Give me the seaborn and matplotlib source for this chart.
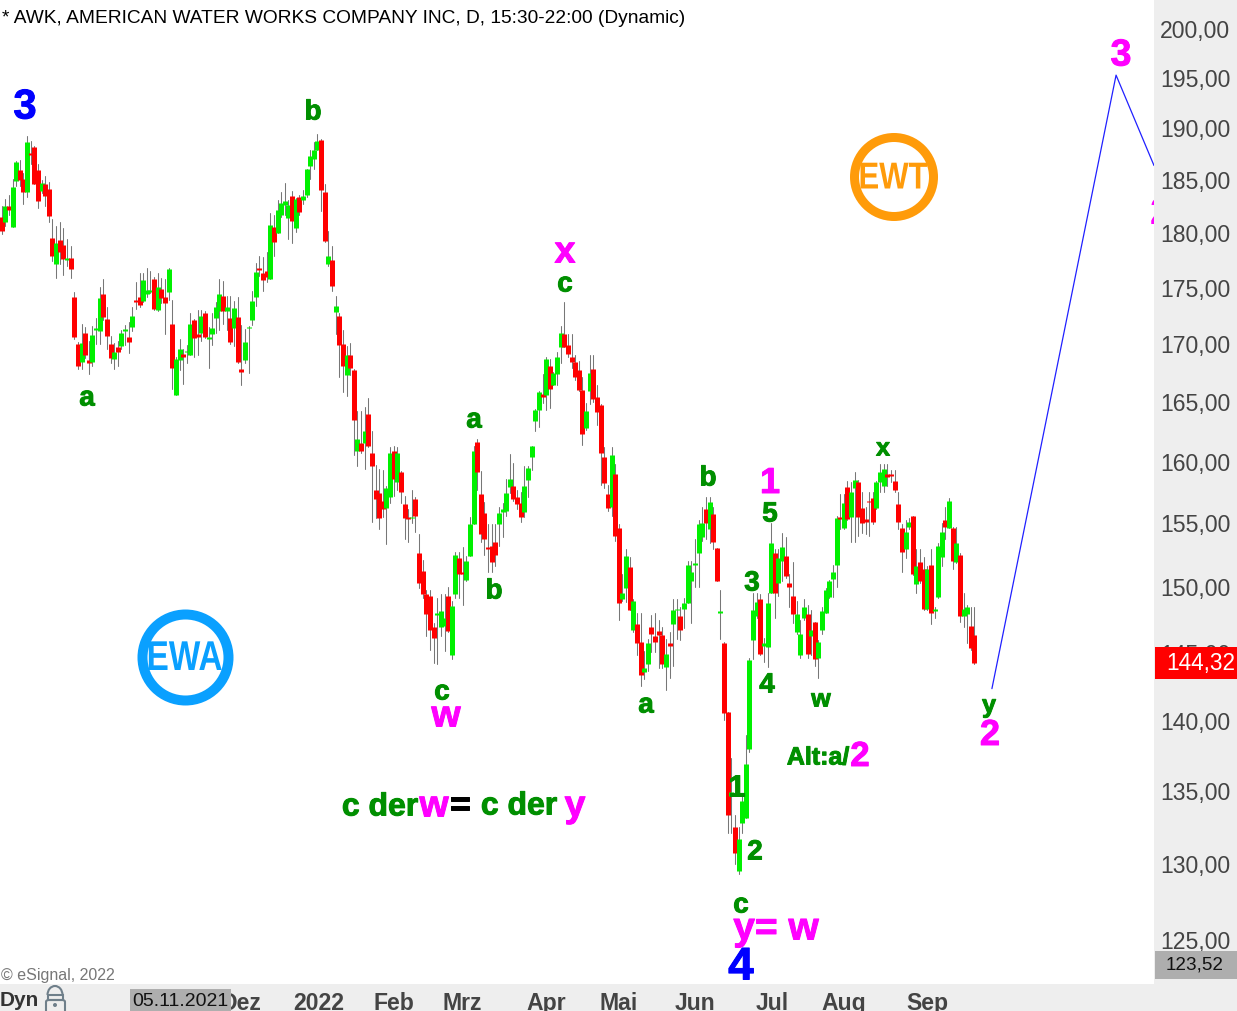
import numpy as np
import pandas as pd
import seaborn as sns
import matplotlib
matplotlib.use("Agg")
import matplotlib.pyplot as plt
import matplotlib.patheffects as pe
from matplotlib.patches import Ellipse, Rectangle, FancyBboxPatch, Arc
from matplotlib.transforms import Affine2D, ScaledTranslation

W, H = 1237, 1011

# daily candles
opens = [
    181.6,181.1,182.6,180.7,185.0,186.1,185.2,184.0,187.7,188.3,
    186.1,184.1,184.7,184.3,179.7,177.3,179.5,179.0,177.6,177.8,
    174.3,170.1,168.5,171.1,168.7,168.5,171.3,171.2,174.5,172.3,
    170.1,168.8,169.8,169.9,171.2,170.7,171.6,174.0,174.3,173.9,
    174.5,174.7,175.9,173.1,175.0,174.3,174.7,171.9,165.7,168.7,
    169.2,169.4,169.1,172.2,171.0,171.1,172.8,170.5,171.0,172.4,
    173.0,174.4,173.0,172.4,171.5,172.5,167.9,168.7,171.5,172.2,
    174.3,176.9,176.4,176.6,175.9,180.7,180.1,181.8,182.7,181.5,
    183.6,180.6,183.5,183.2,183.7,186.5,187.1,188.0,189.0,184.0,
    177.3,177.6,172.9,172.6,170.1,167.4,169.1,167.8,161.0,161.6,
    161.6,164.1,160.8,157.8,157.5,156.9,156.3,157.2,161.0,158.4,
    159.2,156.6,155.6,155.5,157.0,152.7,151.3,149.5,149.4,147.0,
    147.9,147.0,147.1,149.4,144.9,149.5,152.3,151.2,150.6,152.5,
    155.0,161.7,157.4,155.9,153.2,153.3,153.6,155.0,156.0,156.1,
    158.0,158.1,157.2,156.7,156.0,158.6,160.5,163.5,164.4,165.8,
    165.7,168.2,166.5,167.5,169.8,171.0,170.0,169.0,168.5,167.8,
    166.1,162.9,166.0,167.9,165.5,164.8,160.5,157.4,156.4,159.1,
    154.7,149.1,150.0,151.6,146.8,147.2,145.9,143.6,144.2,147.0,
    146.3,146.7,146.4,144.0,145.8,147.2,148.3,147.8,148.4,148.8,
    150.5,151.8,152.7,154.0,156.2,154.6,155.8,153.1,148.1,145.8,
    140.7,134.7,132.6,129.6,132.9,133.2,138.0,146.0,147.8,149.1,
    145.6,145.5,149.6,152.7,150.4,152.1,152.5,150.4,149.4,146.6,
    144.9,147.7,148.0,146.3,147.4,144.7,146.8,148.1,149.3,150.7,
    151.8,155.6,154.7,158.0,155.6,157.9,158.4,156.3,155.4,156.9,
    157.1,156.3,158.4,158.1,159.1,159.1,158.5,156.6,154.7,153.0,
    154.8,155.7,150.3,152.0,151.5,148.4,151.8,148.2,149.3,152.4,
    155.3,154.7,154.7,152.0,152.6,147.8,148.0,147.1,146.4,
]
highs = [
    182.6,183.3,183.7,185.2,186.9,187.0,185.8,189.4,188.9,188.4,
    186.6,185.1,185.5,184.9,181.4,180.8,181.1,180.6,179.6,178.9,
    174.7,170.3,171.9,171.6,170.4,171.7,172.4,175.2,175.9,173.4,
    170.8,170.2,170.4,171.3,171.8,172.0,173.4,175.6,176.4,176.4,
    176.9,176.6,176.1,176.4,176.0,175.9,176.9,174.0,169.0,170.5,
    169.7,170.0,172.8,172.3,173.1,173.1,173.0,171.6,172.8,173.8,
    175.9,175.7,174.4,174.4,173.9,174.3,171.8,171.4,171.7,174.8,
    177.4,178.0,177.9,178.4,182.0,181.8,183.2,184.0,184.8,183.2,
    184.1,183.4,183.7,184.2,186.2,188.0,188.8,189.6,189.1,184.7,
    180.3,178.9,174.4,172.8,171.3,169.9,170.2,167.9,164.3,164.3,
    164.7,165.4,162.6,159.8,159.5,159.4,158.1,161.3,161.4,161.3,
    159.3,157.3,156.2,157.8,157.2,154.2,152.2,149.8,149.8,147.3,
    149.2,149.5,149.5,150.1,149.0,152.8,152.8,153.2,152.5,155.6,
    161.4,162.0,159.3,156.8,155.0,155.0,155.0,156.4,156.7,158.7,
    160.7,160.0,157.8,157.6,159.7,159.7,161.4,164.5,166.0,167.5,
    169.0,168.8,167.7,169.4,171.7,173.8,171.0,171.0,169.1,168.6,
    167.2,165.0,169.1,169.1,166.5,164.9,161.3,158.2,161.3,159.9,
    155.0,151.1,153.0,152.4,149.1,148.1,148.1,145.2,146.1,147.9,
    148.1,147.5,147.0,146.1,146.6,149.1,149.1,148.5,149.2,152.1,
    152.1,153.8,155.3,156.4,157.2,157.2,156.4,153.1,149.8,145.9,
    140.7,137.4,133.4,132.6,134.7,139.0,144.7,149.6,149.6,149.5,
    146.2,149.6,155.1,153.0,153.0,154.3,154.0,151.1,152.0,149.0,
    147.5,149.1,148.7,148.3,147.4,146.0,148.5,150.0,150.6,151.8,
    155.7,157.4,157.4,158.5,158.4,159.2,158.6,157.6,156.4,157.6,
    157.6,158.5,159.9,159.9,159.9,159.4,159.4,157.6,155.0,155.3,
    155.5,155.7,153.0,153.0,152.4,151.7,153.0,148.5,153.5,155.1,
    156.4,157.1,154.8,154.8,152.7,149.6,148.7,148.5,148.5,
]
lows = [
    180.0,180.8,181.8,180.7,184.5,184.5,182.8,183.5,186.6,184.7,
    182.5,183.9,182.6,181.1,177.5,176.0,177.3,176.3,177.1,176.0,
    170.5,167.9,167.9,168.9,167.5,168.2,170.1,170.1,172.2,169.7,
    168.4,167.9,168.2,169.7,170.0,169.3,171.2,173.2,173.4,173.8,
    174.3,174.6,173.1,173.0,173.7,171.0,174.0,166.2,165.7,167.8,
    166.6,168.4,169.1,169.0,169.1,170.4,170.6,168.0,170.0,171.1,
    171.3,171.9,171.3,170.1,169.9,168.4,166.5,168.4,167.6,171.8,
    173.5,176.2,174.8,175.6,175.9,178.0,180.1,181.6,181.8,179.6,
    179.2,180.2,181.8,182.8,183.5,185.2,186.2,188.0,182.2,179.3,
    177.1,174.8,171.0,167.2,165.9,165.6,167.4,160.6,159.7,160.8,
    159.5,161.3,155.2,155.5,154.6,155.6,153.4,156.7,157.3,157.8,
    156.7,153.8,153.6,155.1,154.4,150.0,149.2,146.3,145.3,144.3,
    144.2,146.3,145.2,146.6,144.6,149.2,149.2,148.7,150.5,152.5,
    155.0,157.8,153.6,152.6,151.2,151.2,151.7,153.3,154.0,155.7,
    157.5,156.9,156.2,155.2,155.6,157.2,159.4,162.6,163.0,165.0,
    164.4,164.6,166.5,166.5,168.4,169.8,169.0,168.0,167.0,166.0,
    161.5,162.7,164.9,165.1,163.1,158.2,157.9,156.1,155.7,153.7,
    147.5,149.0,148.9,148.3,146.6,144.9,142.6,143.1,143.7,145.1,
    145.1,143.9,143.9,142.3,143.2,144.1,146.1,146.0,146.9,148.8,
    147.3,150.1,150.1,153.7,153.8,153.5,153.0,150.5,146.1,140.1,
    132.2,132.2,130.1,129.4,132.2,133.2,137.8,144.6,147.7,144.9,
    144.4,144.0,149.6,147.7,149.4,150.5,150.8,148.5,147.3,146.5,
    144.7,147.5,144.7,144.9,144.1,143.2,146.5,148.1,149.2,149.3,
    150.1,154.6,154.6,155.3,153.6,153.6,154.1,154.3,154.2,154.1,
    155.0,156.2,157.6,157.6,158.1,158.4,157.6,154.6,151.2,152.3,
    154.6,151.0,149.6,150.4,148.3,148.3,147.2,147.7,149.2,151.7,
    153.8,154.7,151.5,151.9,147.4,147.0,145.8,145.3,144.2,
]
closes = [
    180.3,182.6,182.3,184.4,186.8,185.1,184.0,188.8,187.5,184.7,
    183.1,184.8,183.6,181.7,178.0,179.2,178.4,177.7,177.8,176.8,
    170.7,168.2,170.2,169.1,168.4,170.9,171.5,174.2,172.5,170.8,
    168.9,169.4,169.4,171.1,171.4,170.3,172.6,173.8,173.6,175.8,
    174.9,174.9,173.2,175.2,174.2,173.7,176.8,168.0,168.8,169.7,
    169.0,169.5,171.9,170.6,170.7,172.6,170.7,170.7,171.5,173.4,
    174.5,173.0,173.4,170.3,173.3,168.5,167.7,170.3,171.6,173.9,
    176.5,176.7,175.8,176.1,180.9,179.3,182.3,182.9,183.1,182.7,
    181.2,183.3,182.1,183.6,186.2,187.4,188.0,188.9,184.2,179.4,
    178.0,175.3,173.5,170.0,168.2,169.1,168.0,163.6,162.0,161.0,
    162.6,161.4,159.7,157.0,155.5,156.2,157.9,160.8,158.7,160.8,
    157.6,155.5,155.4,155.6,155.7,150.4,149.5,148.0,146.8,146.2,
    148.1,148.2,147.7,146.7,148.6,152.6,151.1,151.1,152.1,155.0,
    161.0,159.2,154.2,153.8,153.0,152.0,152.6,155.9,156.2,157.5,
    158.7,157.0,156.6,155.6,158.1,159.6,161.4,164.4,165.9,165.5,
    168.8,166.2,167.6,169.0,171.1,169.8,169.2,168.5,167.2,166.1,
    162.4,164.3,167.6,165.3,164.2,160.8,158.3,156.3,160.6,154.1,
    148.8,149.6,152.5,148.3,149.0,145.8,143.4,143.9,145.8,146.5,
    145.9,146.4,144.2,145.0,145.6,148.3,148.4,146.8,148.8,151.8,
    151.2,151.9,155.0,155.1,155.1,156.8,153.6,150.5,148.2,140.6,
    133.4,135.0,130.8,131.8,134.4,137.0,144.5,148.3,148.9,145.0,
    145.8,148.8,153.5,149.6,152.3,153.2,150.9,150.1,148.0,148.0,
    146.5,148.5,145.0,146.8,144.6,145.9,148.2,149.8,150.5,151.2,
    155.5,155.4,156.7,155.4,157.6,158.6,155.6,155.1,155.2,156.8,
    155.2,158.4,159.2,159.5,158.8,158.9,157.8,155.2,152.8,154.4,
    155.2,151.1,151.7,150.5,148.4,151.5,148.1,148.4,153.3,154.4,
    154.8,156.9,152.1,153.5,147.8,148.4,148.5,145.4,144.32,
]

# blue forecast line
proj_days = [272.8, 307.0, 317.45]
proj_prices = [142.4, 195.4, 186.5]

price_ticks = [200, 195, 190, 185, 180, 175, 170, 165, 160, 155, 150, 145, 140, 135, 130, 125]
month_days = [66, 87.4, 108, 127, 150, 170, 191, 212.3, 232, 255]
month_labels = ["Dez", "2022", "Feb", "Mrz", "Apr", "Mai", "Jun", "Jul", "Aug", "Sep"]

GREEN = "#008f00"
MAGENTA = "#ff00ff"
BLUE = "#0000ff"

# wave labels: text, x px, y px, colour, size
wave_labels = [
    ("3", 25, 105, BLUE, 30),
    ("b", 313, 110, GREEN, 20),
    ("a", 87, 396, GREEN, 20),
    ("x", 565, 250, MAGENTA, 27),
    ("c", 565, 282, GREEN, 20),
    ("a", 474, 418, GREEN, 20),
    ("b", 494, 589, GREEN, 20),
    ("c", 442, 690, GREEN, 20),
    ("w", 446, 714, MAGENTA, 27),
    ("b", 708, 476, GREEN, 20),
    ("1", 770, 481, MAGENTA, 26),
    ("5", 770, 512, GREEN, 20),
    ("3", 752, 581, GREEN, 20),
    ("4", 767, 683, GREEN, 20),
    ("w", 821, 697, GREEN, 18),
    ("x", 883, 446, GREEN, 18),
    ("y", 989, 703, GREEN, 18),
    ("2", 990, 733, MAGENTA, 26),
    ("a", 646, 703, GREEN, 20),
    ("1", 737, 786, GREEN, 22),
    ("2", 755, 850, GREEN, 20),
    ("c", 741, 903, GREEN, 20),
    ("y= w", 776, 927, MAGENTA, 28),
    ("4", 741, 965, BLUE, 33),
    ("Alt:a/", 818, 755, GREEN, 18),
    ("2", 860, 754, MAGENTA, 25),
    ("c der", 380, 805, GREEN, 23),
    ("w", 434, 804, MAGENTA, 27),
    ("=", 460, 803, "black", 25),
    ("c der", 519, 804, GREEN, 23),
    ("y", 575, 804, MAGENTA, 27),
    ("3", 1121, 53, MAGENTA, 27),
]


class Squeeze(pe.AbstractPathEffect):
    # narrows a text about a vertical line, the logos use a condensed face
    def __init__(self, center_x, scale):
        super().__init__()
        self.center_x = center_x
        self.scale = scale

    def draw_path(self, renderer, gc, tpath, affine, rgbFace=None):
        squeeze = Affine2D().translate(-self.center_x, 0).scale(self.scale, 1).translate(self.center_x, 0)
        renderer.draw_path(gc, tpath, affine + squeeze, rgbFace)


sns.set_theme(style="white")
plt.rcParams["font.family"] = ["Liberation Sans", "DejaVu Sans"]

fig = plt.figure(figsize=(W / 100, H / 100), dpi=100, facecolor="#eeeeee")
ax = fig.add_axes([0, 27 / H, 1154 / W, 984 / H], facecolor="white")
ax.set_yscale("log")

days = np.arange(len(closes))
candles = pd.DataFrame({"day": days, "open": opens, "high": highs, "low": lows, "close": closes})
wicks = candles.melt(id_vars="day", value_vars=["high", "low"], value_name="price")
bodies = candles.melt(id_vars="day", value_vars=["open", "close"], value_name="price")
body_colors = {d: ("#00f000" if c >= o else "#ff0000") for d, o, c in zip(days, opens, closes)}

sns.lineplot(data=wicks, x="day", y="price", units="day", estimator=None, color="#777777",
             linewidth=0.75, ax=ax, legend=False)
# hue per day keeps the drawing order, later candles lie over earlier ones
sns.lineplot(data=bodies, x="day", y="price", hue="day", palette=body_colors, units="day",
             estimator=None, linewidth=3.6, solid_capstyle="butt", ax=ax, legend=False)
sns.lineplot(x=proj_days, y=proj_prices, sort=False, estimator=None, color="#2020ff", linewidth=0.9, ax=ax)

ax.set_xlim(-0.46, 317.45)
ax.set_ylim(122.28, 203.12)
ax.set_xlabel("")
ax.set_ylabel("")
sns.despine(ax=ax, left=True, bottom=True, right=True, top=True)

ax.yaxis.tick_right()
ax.yaxis.set_minor_locator(matplotlib.ticker.NullLocator())
ax.set_yticks(price_ticks)
ax.set_yticklabels([f"{p},00" for p in price_ticks])
ax.tick_params(axis="y", length=0, pad=4.5, labelsize=16.6, labelcolor="#444444")
ax.set_xticks(month_days)
ax.set_xticklabels(month_labels, fontweight="bold")
ax.tick_params(axis="x", length=0, pad=6, labelsize=16.6, labelcolor="#444444")
for tick_label in ax.get_yticklabels():
    tick_label.set_transform(tick_label.get_transform() + ScaledTranslation(0, 1 / 100, fig.dpi_scale_trans))


def px_text(x, y, s, **kw):
    # +2.5: the font sits a little high when centred on the line box
    kw.setdefault("ha", "center")
    kw.setdefault("va", "center")
    return fig.text(x / W, 1 - (y + 2.5) / H, s, **kw)


def px_rect(x0, y0, x1, y1, color):
    fig.add_artist(Rectangle((x0 / W, 1 - y1 / H), (x1 - x0) / W, (y1 - y0) / H,
                             transform=fig.transFigure, facecolor=color, edgecolor="none", zorder=2))


px_text(2, 16, "* AWK, AMERICAN WATER WORKS COMPANY INC, D, 15:30-22:00 (Dynamic)",
        ha="left", fontsize=13.75, color="black")
px_text(1, 973, "© eSignal, 2022", ha="left", fontsize=11.5, color="#777777")

for label, x, y, color, size in wave_labels:
    px_text(x, y, label, color=color, fontsize=size, fontweight="bold",
            path_effects=[pe.withStroke(linewidth=0.7, foreground=color)])

# the magenta 2 of the next wave, cut by the price panel
ax.text(1160 / W, 1 - 215 / H, "2", color=MAGENTA, fontsize=26, fontweight="bold", ha="center", va="center",
        transform=fig.transFigure, clip_on=True)

# logos
for cx, cy, r, lw, color, name, size, squeeze in [(185.5, 657.5, 43, 10, "#0aa0ff", "EWA", 30, 0.8),
                                                  (894, 177, 39.5, 9, "#ff9b0a", "EWT", 27, 0.83)]:
    fig.add_artist(Ellipse((cx / W, 1 - cy / H), 2 * r / W, 2 * r / H, transform=fig.transFigure,
                           facecolor="none", edgecolor=color, linewidth=lw * 0.72))
    px_text(cx - 1, cy - 1, name, color=color, fontsize=size, fontweight="bold",
            path_effects=[Squeeze(cx - 1, squeeze)])

# price boxes
px_rect(1155, 647, 1237, 679, "#ff0000")
px_text(1166, 661, "144,32", ha="left", color="white", fontsize=16.3, zorder=3)
px_rect(1155, 951, 1237, 979, "#aeaeae")
px_text(1166, 963, "123,52", ha="left", color="#111111", fontsize=13.6, zorder=3)

# bottom bar
px_rect(130, 989, 231, 1011, "#aeaeae")
px_text(132, 999, "05.11.2021", ha="left", color="#111111", fontsize=14, zorder=3)
px_text(0, 998, "Dyn", ha="left", color="#333333", fontsize=15, fontweight="bold")

# lock symbol
lock = "#6f7f8a"
fig.add_artist(FancyBboxPatch((46 / W, 1 - 1014 / H), 19 / W, 14 / H, boxstyle="round,pad=0,rounding_size=0.002",
                              transform=fig.transFigure, facecolor="none", edgecolor=lock, linewidth=1.5))
fig.add_artist(Arc((55 / W, 1 - 995 / H), 15 / W, 18 / H, theta1=0, theta2=180, transform=fig.transFigure,
                   edgecolor=lock, linewidth=1.5))
fig.add_artist(Rectangle((47.5 / W, 1 - 1000 / H), 15 / W, 5 / H, transform=fig.transFigure, facecolor="none",
                         edgecolor=lock, linewidth=1.5))
fig.add_artist(Ellipse((55 / W, 1 - 1005 / H), 4 / W, 4 / H, transform=fig.transFigure, facecolor=lock, edgecolor="none"))

fig.savefig("out.png", dpi=100, facecolor=fig.get_facecolor())
